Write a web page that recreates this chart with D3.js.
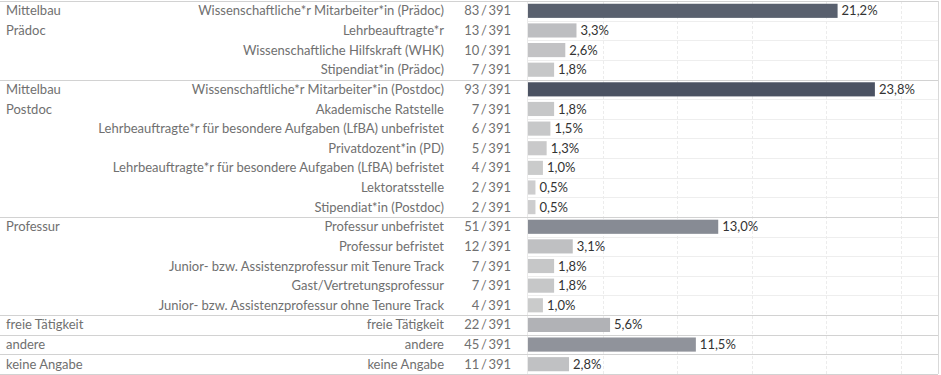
<!DOCTYPE html>
<html>
<head>
<meta charset="utf-8">
<script src="https://cdn.jsdelivr.net/npm/d3@7"></script>
<style>
  body { margin: 0; background: #fff; }
  svg text { font-family: Lato, "Open Sans", sans-serif; font-size: 13px; }
</style>
</head>
<body>
<svg id="chart" width="941" height="375"></svg>
<script>
// groups in the left column, with how many rows each one covers
const groups = ["Mittelbau\nPrädoc", "Mittelbau\nPostdoc", "Professur", "freie Tätigkeit", "andere", "keine Angabe"];
const groupSizes = [4, 7, 5, 1, 1, 1];

const categories = [
    "Wissenschaftliche*r Mitarbeiter*in (Prädoc)",
    "Lehrbeauftragte*r",
    "Wissenschaftliche Hilfskraft (WHK)",
    "Stipendiat*in (Prädoc)",
    "Wissenschaftliche*r Mitarbeiter*in (Postdoc)",
    "Akademische Ratstelle",
    "Lehrbeauftragte*r für besondere Aufgaben (LfBA) unbefristet",
    "Privatdozent*in (PD)",
    "Lehrbeauftragte*r für besondere Aufgaben (LfBA) befristet",
    "Lektoratsstelle",
    "Stipendiat*in (Postdoc)",
    "Professur unbefristet",
    "Professur befristet",
    "Junior- bzw. Assistenzprofessur mit Tenure Track",
    "Gast/Vertretungsprofessur",
    "Junior- bzw. Assistenzprofessur ohne Tenure Track",
    "freie Tätigkeit",
    "andere",
    "keine Angabe"
];
const counts = [83, 13, 10, 7, 93, 7, 6, 5, 4, 2, 2, 51, 12, 7, 7, 4, 22, 45, 11];
const total = 391;
const gridCounts = [20, 40, 60, 80, 100];

const de = d3.formatLocale({decimal: ",", thousands: ".", grouping: [3], currency: ["", " €"]});
const pct = de.format(".1%");

const svg = d3.select("#chart");
const yTop = 1, yBottom = 374, xRight = 938;

const rows = d3.range(categories.length);
const y = d3.scaleBand().domain(rows).range([yTop, yBottom]).paddingInner(0.28).paddingOuter(0.14);
const step = y.step();
const x = d3.scaleLinear().domain([0, 100]).range([528, 528 + 100 * 3.73]);
const color = d3.scaleLinear().domain([0, 93]).range(["#d0d0d0", "#4b5262"]);

// faint row lines in the bar pane
svg.append("g").selectAll("line")
    .data(rows.slice(1))
    .join("line")
    .attr("x1", x(0)).attr("x2", xRight)
    .attr("y1", d => Math.round(yTop + d * step) + 0.5)
    .attr("y2", d => Math.round(yTop + d * step) + 0.5)
    .attr("stroke", "#eeeeee");

// dashed vertical gridlines
svg.append("g").selectAll("line")
    .data(gridCounts)
    .join("line")
    .attr("x1", d => Math.round(x(d)) + 0.5).attr("x2", d => Math.round(x(d)) + 0.5)
    .attr("y1", yTop).attr("y2", yBottom)
    .attr("stroke", "#ececec")
    .attr("stroke-dasharray", "3,2");

svg.append("line")
    .attr("x1", x(0) - 0.5).attr("x2", x(0) - 0.5)
    .attr("y1", yTop).attr("y2", yBottom)
    .attr("stroke", "#eaeaea");

// group separators
let starts = [0];
groupSizes.forEach(n => starts.push(starts[starts.length - 1] + n));

svg.append("g").selectAll("line")
    .data(starts)
    .join("line")
    .attr("x1", 0).attr("x2", xRight)
    .attr("y1", d => Math.round(yTop + d * step) + 0.5)
    .attr("y2", d => Math.round(yTop + d * step) + 0.5)
    .attr("stroke", "#d2d2d2");

svg.append("line")
    .attr("x1", xRight + 0.5).attr("x2", xRight + 0.5)
    .attr("y1", yTop).attr("y2", yBottom)
    .attr("stroke", "#d9d9d9");

// group labels
const gl = svg.append("g").selectAll("text")
    .data(groups)
    .join("text")
    .attr("x", 6)
    .attr("fill", "#707070");

gl.each(function(d, i) {
    d3.select(this).selectAll("tspan")
        .data(d.split("\n"))
        .join("tspan")
        .attr("x", 6)
        .attr("y", (s, j) => yTop + (starts[i] + j + 0.5) * step)
        .attr("dy", "0.35em")
        .text(s => s);
});

// category labels
svg.append("g").selectAll("text")
    .data(rows)
    .join("text")
    .attr("x", 444)
    .attr("y", d => y(d) + y.bandwidth() / 2)
    .attr("dy", "0.35em")
    .attr("text-anchor", "end")
    .attr("fill", "#707070")
    .text(d => categories[d]);

// counts
svg.append("g").selectAll("text")
    .data(rows)
    .join("text")
    .attr("x", 511)
    .attr("y", d => y(d) + y.bandwidth() / 2)
    .attr("dy", "0.35em")
    .attr("text-anchor", "end")
    .attr("fill", "#707070")
    .text(d => counts[d] + "\u2009/\u2009" + total);

// bars
svg.append("g").selectAll("rect")
    .data(rows)
    .join("rect")
    .attr("x", x(0))
    .attr("y", d => y(d))
    .attr("width", d => x(counts[d]) - x(0))
    .attr("height", y.bandwidth())
    .attr("fill", d => color(counts[d]));

// percent labels
svg.append("g").selectAll("text")
    .data(rows)
    .join("text")
    .attr("x", d => x(counts[d]) + 4)
    .attr("y", d => y(d) + y.bandwidth() / 2)
    .attr("dy", "0.35em")
    .attr("fill", "#333")
    .text(d => pct(counts[d] / total));
</script>
</body>
</html>
